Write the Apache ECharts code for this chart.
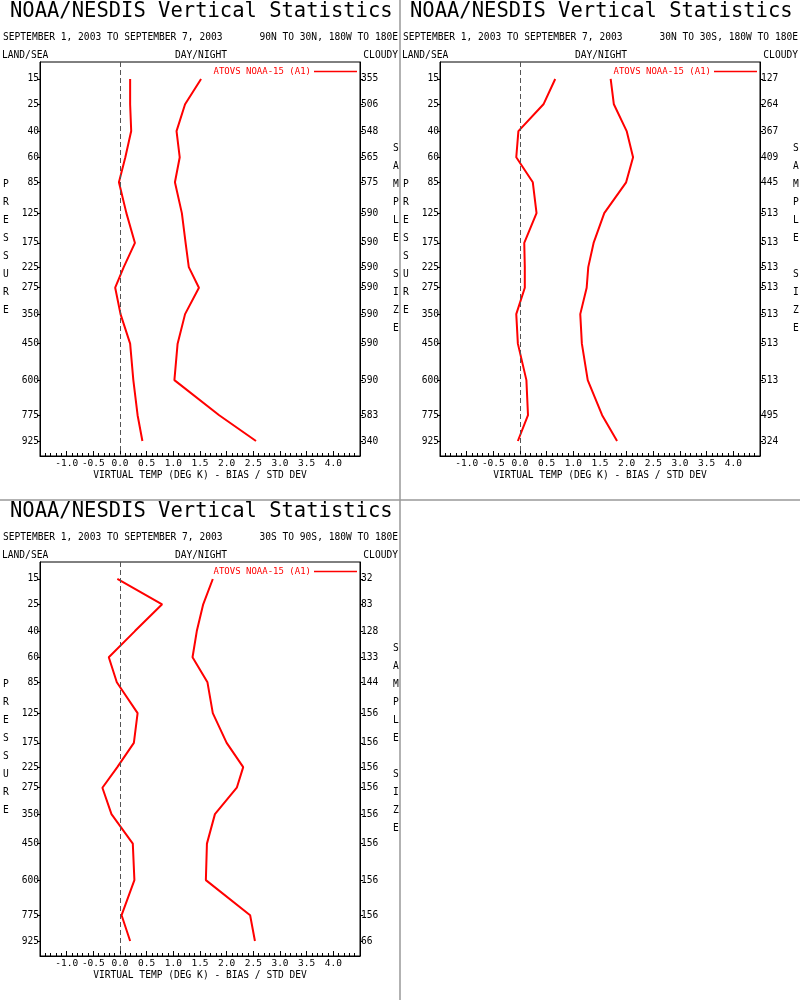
<!DOCTYPE html>
<html>
<head>
<meta charset="utf-8">
<script src="https://cdn.jsdelivr.net/npm/echarts@6/dist/echarts.min.js"></script>
<style>
html,body{margin:0;padding:0;background:#fff;}
#chart{width:800px;height:1000px;}
</style>
</head>
<body>
<div id="chart"></div>
<script>
// ---- data ----
const pressures = [15, 25, 40, 60, 85, 125, 175, 225, 275, 350, 450, 600, 775, 925];
const xTicks = [-1.0, -0.5, 0.0, 0.5, 1.0, 1.5, 2.0, 2.5, 3.0, 3.5, 4.0];
const seriesName = 'ATOVS NOAA-15 (A1)';
const regions = ['90N TO 30N, 180W TO 180E', '30N TO 30S, 180W TO 180E', '30S TO 90S, 180W TO 180E'];

const bias1 = [0.19, 0.19, 0.21, 0.10, -0.02, 0.12, 0.28, 0.07, -0.09, 0.01, 0.19, 0.25, 0.33, 0.42];
const std1  = [1.52, 1.22, 1.06, 1.12, 1.03, 1.16, 1.23, 1.29, 1.48, 1.22, 1.08, 1.02, 1.86, 2.55];
const size1 = [355, 506, 548, 565, 575, 590, 590, 590, 590, 590, 590, 590, 583, 340];

const bias2 = [0.66, 0.44, -0.03, -0.07, 0.24, 0.31, 0.08, 0.09, 0.09, -0.07, -0.04, 0.12, 0.15, -0.04];
const std2  = [1.70, 1.76, 2.00, 2.12, 1.99, 1.58, 1.38, 1.28, 1.25, 1.13, 1.16, 1.27, 1.54, 1.82];
const size2 = [127, 264, 367, 409, 445, 513, 513, 513, 513, 513, 513, 513, 495, 324];

const bias3 = [-0.05, 0.79, 0.28, -0.21, -0.06, 0.33, 0.26, -0.05, -0.33, -0.16, 0.24, 0.27, 0.03, 0.19];
const std3  = [1.74, 1.56, 1.44, 1.36, 1.64, 1.74, 2.00, 2.31, 2.19, 1.78, 1.63, 1.61, 2.44, 2.53];
const size3 = [32, 83, 128, 133, 144, 156, 156, 156, 156, 156, 156, 156, 156, 66];

// ---- layout ----
const FONT = 'DejaVu Sans Mono';
const KAPPA = 0.286;               // pressure axis is linear in p^kappa
const tp = p => Math.pow(p, KAPPA);
const Y_MIN = 1.9403, Y_MAX = 7.2543;
const panels = [
  {x: 0, y: 0, bias: bias1, std: std1, size: size1, region: regions[0]},
  {x: 400, y: 0, bias: bias2, std: std2, size: size2, region: regions[1]},
  {x: 0, y: 500, bias: bias3, std: std3, size: size3, region: regions[2]}
];
const tickVals = pressures.map(tp);
function idxOf(v) {
  let best = 0, bd = 1e9;
  tickVals.forEach((t, i) => { const d = Math.abs(t - v); if (d < bd) { bd = d; best = i; } });
  return best;
}

const grid = [], xAxis = [], yAxis = [], series = [], legend = [], graphic = [];
panels.forEach((P, k) => {
  grid.push({left: P.x + 40, top: P.y + 62, width: 320, height: 394, show: true,
    borderColor: '#000', borderWidth: 1, backgroundColor: 'transparent'});
  xAxis.push({
    type: 'value', gridIndex: k, min: -1.5, max: 4.5, interval: 0.5,
    axisLine: {show: true, onZero: false, lineStyle: {color: '#000', width: 1}},
    axisTick: {show: true, inside: true, length: 5, lineStyle: {color: '#000'}},
    minorTick: {show: true, splitNumber: 5, length: 3, lineStyle: {color: '#000'}},
    splitLine: {show: false},
    axisLabel: {
      margin: 3, color: '#000', fontFamily: FONT, fontSize: 9.5,
      formatter: v => (xTicks.some(t => Math.abs(t - v) < 1e-6) ? v.toFixed(1) : '')
    },
    name: 'VIRTUAL TEMP (DEG K) - BIAS / STD DEV', nameLocation: 'middle', nameGap: 14,
    nameTextStyle: {color: '#000', fontFamily: FONT, fontSize: 9.6, verticalAlign: 'top'}
  });
  yAxis.push({
    type: 'value', gridIndex: k, position: 'left', inverse: true, min: Y_MIN, max: Y_MAX,
    axisLine: {show: true, onZero: false, lineStyle: {color: '#000', width: 1}},
    axisTick: {show: true, length: 3, customValues: tickVals, lineStyle: {color: '#000'}},
    splitLine: {show: false},
    axisLabel: {margin: 1, color: '#000', fontFamily: FONT, fontSize: 9.6,
      customValues: tickVals, formatter: v => String(pressures[idxOf(v)])}
  });
  yAxis.push({
    type: 'value', gridIndex: k, position: 'right', inverse: true, min: Y_MIN, max: Y_MAX,
    axisLine: {show: true, onZero: false, lineStyle: {color: '#000', width: 1}},
    axisTick: {show: true, length: 3, customValues: tickVals, lineStyle: {color: '#000'}},
    splitLine: {show: false},
    axisLabel: {margin: 1, color: '#000', fontFamily: FONT, fontSize: 9.6,
      customValues: tickVals, formatter: v => String(P.size[idxOf(v)])}
  });
  const lineBase = {
    type: 'line', name: seriesName, xAxisIndex: k, yAxisIndex: 2 * k,
    symbol: 'none', animation: false, silent: true,
    lineStyle: {color: '#ff0000', width: 2}, itemStyle: {color: '#ff0000'}
  };
  series.push(Object.assign({}, lineBase, {
    data: P.bias.map((b, i) => [b, tp(pressures[i])]),
    markLine: {
      silent: true, symbol: 'none', label: {show: false},
      lineStyle: {color: '#555', width: 1, type: [5, 3]},
      data: [{xAxis: 0}]
    }
  }));
  series.push(Object.assign({}, lineBase, {
    data: P.std.map((s, i) => [s, tp(pressures[i])])
  }));
  legend.push({
    data: [seriesName], right: 800 - (P.x + 357), top: P.y + 67, align: 'right',
    icon: 'rect', itemWidth: 43, itemHeight: 1.5, padding: 0, itemGap: 0,
    selectedMode: false,
    textStyle: {color: '#ff0000', fontFamily: FONT, fontSize: 9, padding: [0, -2, 0, 0]}
  });
  const txt = (x, y, s, size, align, extra) => Object.assign({
    type: 'text', x: x, y: y, silent: true,
    style: {text: s, fill: '#000', font: size + 'px "' + FONT + '"', textAlign: align || 'left', textVerticalAlign: 'middle'}
  }, extra || {});
  graphic.push(txt(P.x + 10, P.y + 12, 'NOAA/NESDIS Vertical Statistics', 20.5));
  graphic.push(txt(P.x + 3, P.y + 37, 'SEPTEMBER 1, 2003 TO SEPTEMBER 7, 2003', 9.6));
  graphic.push(txt(P.x + 398, P.y + 37, P.region, 9.6, 'right'));
  graphic.push(txt(P.x + 2, P.y + 55, 'LAND/SEA', 9.6));
  graphic.push(txt(P.x + 201, P.y + 55, 'DAY/NIGHT', 9.6, 'center'));
  graphic.push(txt(P.x + 398, P.y + 55, 'CLOUDY', 9.6, 'right'));
  graphic.push({type: 'text', x: P.x + 6, y: P.y + 175, silent: true,
    style: {text: 'P\nR\nE\nS\nS\nU\nR\nE', fill: '#000', font: '9.6px "' + FONT + '"',
      textAlign: 'center', textVerticalAlign: 'top', lineHeight: 18}});
  graphic.push({type: 'text', x: P.x + 396, y: P.y + 139, silent: true,
    style: {text: 'S\nA\nM\nP\nL\nE\n \nS\nI\nZ\nE', fill: '#000', font: '9.6px "' + FONT + '"',
      textAlign: 'center', textVerticalAlign: 'top', lineHeight: 18}});
});
// panel separators
graphic.push({type: 'line', silent: true, shape: {x1: 400, y1: 0, x2: 400, y2: 1000},
  style: {stroke: '#999', lineWidth: 1.5}});
graphic.push({type: 'line', silent: true, shape: {x1: 0, y1: 500, x2: 800, y2: 500},
  style: {stroke: '#999', lineWidth: 1.5}});

const chart = echarts.init(document.getElementById('chart'), null, {renderer: 'canvas'});
chart.setOption({
  backgroundColor: '#fff', animation: false,
  grid: grid, xAxis: xAxis, yAxis: yAxis, series: series, legend: legend, graphic: graphic
});
</script>
</body>
</html>
